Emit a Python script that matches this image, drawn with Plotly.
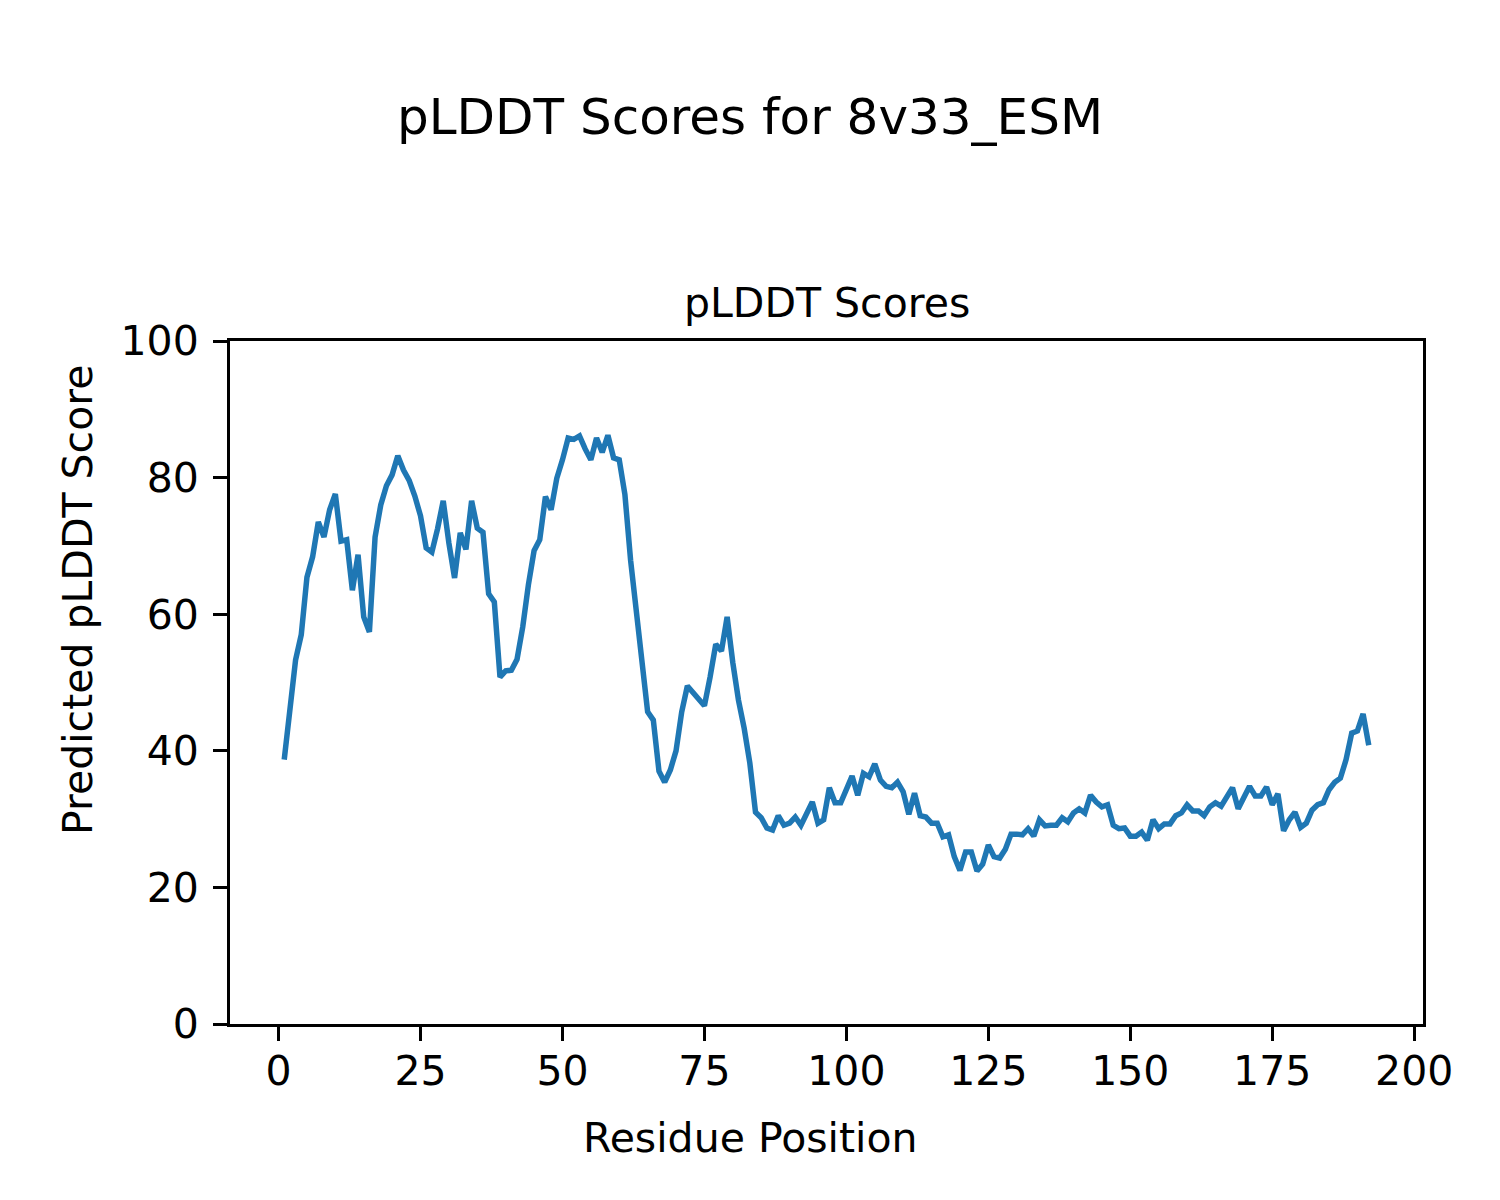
import plotly.graph_objects as go

residues = list(range(1, 193))
plddt = [
    38.7, 46.7, 53.3, 57.0, 65.4, 68.4, 73.5, 71.3, 75.3, 77.6,
    70.7, 70.9, 63.5, 68.7, 59.6, 57.4, 71.3, 76.0, 78.8, 80.4,
    83.2, 81.1, 79.6, 77.3, 74.4, 69.7, 69.1, 72.5, 76.6, 70.4,
    65.3, 71.9, 69.5, 76.6, 72.6, 72.0, 63.0, 61.8, 50.8, 51.7,
    51.8, 53.4, 58.1, 64.3, 69.3, 70.9, 77.2, 75.3, 79.9, 82.6,
    85.8, 85.6, 86.1, 84.2, 82.6, 85.8, 83.7, 86.2, 82.9, 82.6,
    77.5, 67.9, 60.6, 52.3, 45.7, 44.5, 37.0, 35.4, 37.2, 40.0,
    45.7, 49.5, 48.6, 47.7, 46.6, 50.8, 55.6, 54.6, 59.6, 52.9,
    47.4, 43.3, 38.2, 31.0, 30.2, 28.7, 28.4, 30.5, 29.1, 29.4,
    30.3, 29.1, 30.6, 32.5, 29.4, 29.9, 34.6, 32.4, 32.4, 34.3,
    36.3, 33.5, 36.7, 36.2, 38.1, 35.7, 34.8, 34.6, 35.4, 34.0,
    30.7, 33.8, 30.5, 30.3, 29.4, 29.4, 27.4, 27.7, 24.5, 22.5,
    25.2, 25.2, 22.4, 23.4, 26.2, 24.5, 24.3, 25.6, 27.8, 27.8,
    27.7, 28.6, 27.5, 29.9, 29.0, 29.1, 29.1, 30.2, 29.6, 30.9,
    31.5, 30.9, 33.5, 32.5, 31.8, 32.1, 29.1, 28.6, 28.7, 27.5,
    27.5, 28.1, 26.9, 29.9, 28.6, 29.3, 29.3, 30.5, 30.9, 32.1,
    31.2, 31.2, 30.5, 31.8, 32.4, 31.9, 33.2, 34.6, 31.5, 33.4,
    34.8, 33.4, 33.4, 34.7, 32.1, 33.7, 28.3, 29.9, 31.0, 28.8,
    29.4, 31.3, 32.1, 32.4, 34.3, 35.4, 36.0, 38.7, 42.6, 42.9,
    45.4, 40.8,
]
x_ticks = [0, 25, 50, 75, 100, 125, 150, 175, 200]
y_ticks = [0, 20, 40, 60, 80, 100]

FONT = "DejaVu Sans"
W, H = 1500, 1200
OFF = 8  # page offset of the figure
L, R, T, B = 230 - OFF, 1500 - 1423 + OFF, 341 - OFF, 1200 - 1024 + OFF
pw = W - L - R
ph = H - T - B

fig = go.Figure()
fig.add_trace(go.Scatter(
    x=residues, y=plddt, mode="lines",
    line=dict(color="#1f77b4", width=5.5),
    showlegend=False,
))

axis_common = dict(
    showgrid=False, zeroline=False, showline=True, mirror=True,
    linecolor="black", linewidth=3, ticks="outside", ticklen=14,
    tickwidth=3, tickcolor="black",
    tickfont=dict(family=FONT, size=41, color="black"),
)

fig.update_xaxes(
    range=[-8.55, 201.55], tickvals=x_ticks, ticktext=[str(v) for v in x_ticks],
    ticklabelstandoff=-5,
    **axis_common,
)
fig.update_yaxes(
    range=[0, 100], tickvals=y_ticks, ticktext=[str(v) for v in y_ticks],
    ticklabelstandoff=6,
    **axis_common,
)

lab_font = dict(family=FONT, size=41, color="black")
fig.update_layout(
    width=W, height=H,
    margin=dict(l=L, r=R, t=T, b=B),
    paper_bgcolor="white", plot_bgcolor="white",
    font=dict(family=FONT, color="black"),
    title=dict(
        text="pLDDT Scores for 8v33_ESM",
        font=dict(family=FONT, size=50, color="black"),
        x=(750 - OFF) / W, xanchor="center", xref="container",
        y=1 - (116 - OFF) / H, yanchor="middle", yref="container",
    ),
    annotations=[
        dict(text="pLDDT Scores", xref="paper", yref="paper",
             x=0.5, y=1 + (341 - 303) / ph, xanchor="center", yanchor="middle",
             showarrow=False, font=lab_font),
        dict(text="Residue Position", xref="paper", yref="paper",
             x=(750 - 230) / pw, y=-(1138 - 1024) / ph,
             xanchor="center", yanchor="middle", showarrow=False, font=lab_font),
        dict(text="Predicted pLDDT Score", xref="paper", yref="paper",
             x=-(230 - 78) / pw, y=1 - (600 - 341) / ph, textangle=-90,
             xanchor="center", yanchor="middle", showarrow=False, font=lab_font),
    ],
)

fig.write_html("out.html")
